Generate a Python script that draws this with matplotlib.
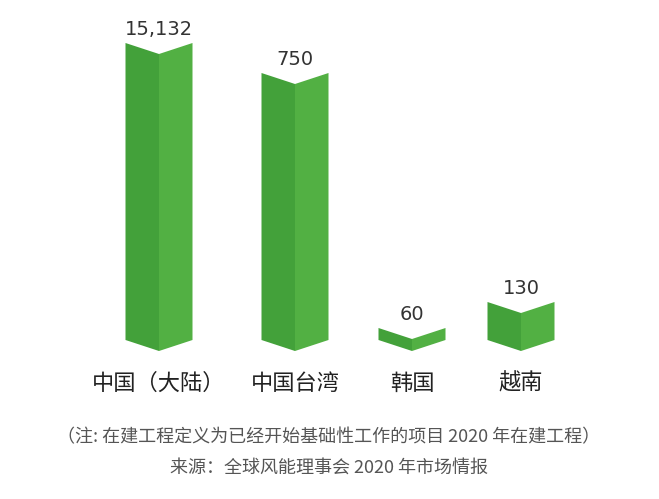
import matplotlib.pyplot as plt
from matplotlib.patches import Polygon

plt.rcParams['font.family'] = ['Noto Sans CJK SC', 'DejaVu Sans']

# chart is not to scale: bar heights are drawn heights, labels are the values
categories = ["中国（大陆）", "中国台湾", "韩国", "越南"]
values = ["15,132", "750", "60", "130"]
heights = [297, 267, 12, 38]
centers = [159, 295, 412, 521]
note = "（注: 在建工程定义为已经开始基础性工作的项目 2020 年在建工程）"
source = "来源：全球风能理事会 2020 年市场情报"

fig = plt.figure(figsize=(6.59, 4.99), dpi=100)
ax = fig.add_axes([0, 0, 1, 1])
ax.set_xlim(0, 659)
ax.set_ylim(499, 0)
ax.axis("off")

base = 340
half = 33.5
dip = 11
for c, h, v, cat in zip(centers, heights, values, categories):
    top = base - h
    left = Polygon([(c - half, top), (c, top + dip), (c, base + dip), (c - half, base)],
                   closed=True, color="#43a13a", lw=0)
    right = Polygon([(c, top + dip), (c + half, top), (c + half, base), (c, base + dip)],
                    closed=True, color="#52b043", lw=0)
    ax.add_patch(left)
    ax.add_patch(right)
    ax.text(c, top - 4, v, ha="center", va="bottom", fontsize=14, color="#333333",
            family=["DejaVu Sans"])
    ax.text(c, 383, cat, ha="center", va="center", fontsize=16, color="#222222")

ax.text(329, 437, note, ha="center", va="center", fontsize=13, color="#555555")
ax.text(329, 468, source, ha="center", va="center", fontsize=13, color="#555555")

fig.savefig("out.png", dpi=100)
